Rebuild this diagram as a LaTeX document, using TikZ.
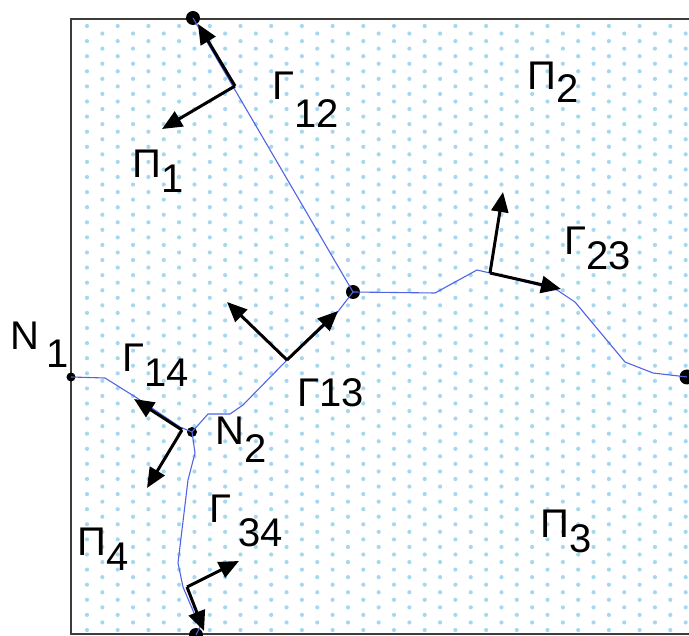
\documentclass[tikz,border=0pt]{standalone}
\usepackage{fontspec}
\setmainfont{Liberation Sans}
\usepackage{xcolor}
\usepackage{tikz}
\usetikzlibrary{arrows.meta, calc}

\definecolor{dotblue}{RGB}{165,215,240}
\definecolor{edgeblue}{RGB}{80,100,230}
\definecolor{framegray}{RGB}{60,60,60}

\begin{document}
\begin{tikzpicture}[
  x=1pt, y=-1pt,
  % Box styles
  junction/.style={circle, fill=black, inner sep=0pt, minimum size=14pt},
  smalljunction/.style={circle, fill=black, inner sep=0pt, minimum size=9pt},
  border/.style={edgeblue, line width=1.1pt, line join=round},
  vec/.style={-{Triangle[length=20pt, width=17pt]}, line width=3pt},
  lbl/.style={inner sep=0pt, anchor=base west, font=\fontsize{40}{48}\selectfont},
]
\useasboundingbox (0,0) rectangle (689,636);
\clip (0,0) rectangle (689,636);

% ---- DOTTED FILL ----
\foreach \r in {0,...,80} {
  \pgfmathsetmacro{\yy}{26+7.55*\r}
  \pgfmathsetmacro{\xo}{87+15.35*mod(\r,2)}
  \foreach \c in {0,...,20}
    \fill[dotblue] (\xo+30.7*\c,\yy) circle (2.1pt);
}

% ---- FRAME ----
\draw[framegray, line width=1.3pt] (71,19) rectangle (700,634);

% ---- NODES ----
\node[junction] (ntop) at (193,18) {};
\node[junction] (ncen) at (353,292) {};
\node[junction, minimum size=15pt] (nright) at (687,377) {};
\node[smalljunction] (n1) at (71,377) {};
\node[smalljunction, minimum size=10pt] (n2) at (192,432) {};
\node[junction] (nbot) at (196,635) {};

% ---- INTERFACES ----
\draw[border] (ntop.center) -- (ncen.center);
\draw[border] (ncen.center) -- (435,293) -- (477,270) -- (490,273) -- (557,290)
  -- (575,302) -- (625,362) -- (653,373) -- (nright.center);
\draw[border] (ncen.center) -- (333,318) -- (287,360) -- (243,405) -- (230,414)
  -- (208,414) -- (n2.center);
\draw[border] (n1.center) -- (105,378) -- (137,398) -- (180,427) -- (n2.center);
\draw[border] (n2.center) -- (195,453) -- (188,480) -- (178,563) -- (183,587)
  -- (200,627) -- (nbot.center);

% ---- TANGENT / NORMAL VECTORS ----
\coordinate (b12) at (235,86);
\coordinate (t12) at (198,24);
\coordinate (m12) at (162,129);
\coordinate (b23) at (490,273);
\coordinate (t23) at (561,289);
\coordinate (m23) at (503,192);
\coordinate (b13) at (287,360);
\coordinate (t13) at (338,311);
\coordinate (m13) at (227,302);
\coordinate (b14) at (182,430);
\coordinate (t14) at (134,399);
\coordinate (m14) at (147,488);
\coordinate (b34) at (187,587);
\coordinate (t34) at (204,631);
\coordinate (m34) at (239,561);

\foreach \g in {12, 23, 13, 14, 34} {
  \draw[vec] (b\g) -- (t\g);
  \draw[vec] (b\g) -- (m\g);
}

% ---- LABELS ----
\node[lbl] (lg12) at (272,100) {Γ\raisebox{-28pt}{12}};
\node[lbl] (lg23) at (564,255) {Γ\raisebox{-15pt}{23}};
\node[lbl] (lg13) at (297,407) {Γ13};
\node[lbl] (lg14) at (122,372) {Γ\raisebox{-15pt}{14}};
\node[lbl] (lg34) at (209,523) {Γ\hspace{7pt}\raisebox{-24pt}{34}};
\node[lbl] (ln1) at (10,350) {N\hspace{7pt}\raisebox{-18pt}{1}};
\node[lbl] (ln2) at (215,445) {N\raisebox{-18pt}{2}};
\node[lbl] (lp1) at (132,178) {Π\raisebox{-15pt}{1}};
\node[lbl] (lp2) at (527,90) {Π\raisebox{-13pt}{2}};
\node[lbl] (lp3) at (540,538) {Π\raisebox{-15pt}{3}};
\node[lbl] (lp4) at (77,555) {Π\raisebox{-15pt}{4}};

\end{tikzpicture}
\end{document}
